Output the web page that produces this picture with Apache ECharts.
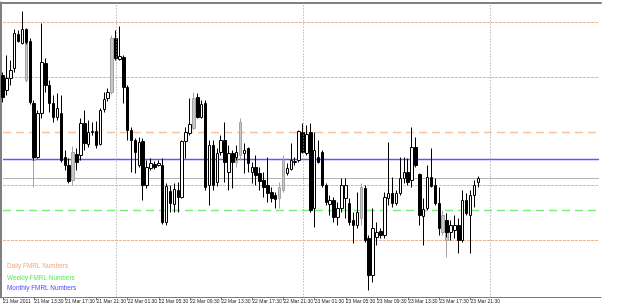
<!DOCTYPE html>
<html><head><meta charset="utf-8">
<script src="https://cdn.jsdelivr.net/npm/echarts@6/dist/echarts.min.js"></script>
<style>html,body{margin:0;padding:0;background:#fff}#c{width:625px;height:307px}</style>
</head><body><div id="c"></div>
<script>
// ---- time categories (30-minute bars from 21 Mar 2011 09:30) ----
const firstLabel = '21 Mar 2011';
const startDay = 21, startMinutes = 9 * 60 + 30, barMinutes = 30, totalSlots = 154;
const categories = [];
for (let i = 0; i < totalSlots; i++) {
  const t = startMinutes + i * barMinutes;
  const d = startDay + Math.floor(t / 1440);
  const m = t % 1440;
  categories.push(d + ' Mar ' + String(Math.floor(m / 60)).padStart(2, '0') + ':' + String(m % 60).padStart(2, '0'));
}
const labelEvery = 8;

// ---- main candles (black = down, white = up) ----
const opens = [1.4125,1.4110,1.4122,1.4132,1.4166,1.4157,1.4171,1.4159,1.4097,1.4043,
1.4087,1.4137,1.4115,1.4097,1.4083,1.4087,1.4043,1.4035,null,1.4046,
1.4045,1.4077,1.4056,1.4068,1.4069,1.4056,1.4091,1.4102,null,1.4162,
1.4141,1.4143,1.4113,1.4070,1.4060,1.4035,1.4059,1.4015,1.4032,1.4036,
1.4035,1.4035,1.3978,1.4009,1.3996,1.4010,1.4003,1.4059,1.4067,null,
1.4103,1.4083,1.4097,1.4015,1.4055,1.4018,1.4048,1.4060,1.4028,1.4047,
1.4043,null,1.4047,1.4052,1.4028,1.4033,1.4027,1.4020,1.4015,1.4008,
1.4005,null,null,1.4027,1.4031,1.4038,1.4040,1.4068,1.4047,1.4068,
1.3992,1.4043,1.4048,1.4015,1.3996,1.4000,1.3983,1.3992,1.4002,1.3997,
1.3980,1.3975,null,1.4012,1.3962,1.3925,1.3963,1.3969,1.3965,1.4002,
1.4007,1.3997,1.4007,1.4022,1.4028,1.4020,1.4053,1.4026,1.3984,1.3992,
1.4023,1.4015,1.3997,null,1.3980,1.3968,1.3970,1.3975,1.3960,1.4000,
1.3985,1.4005,1.4018];
const closes = [1.4103,1.4122,1.4130,1.4167,1.4159,1.4171,1.4158,1.4098,1.4043,1.4087,
1.4138,1.4115,1.4097,1.4083,1.4092,1.4040,1.4035,1.4019,null,1.4038,
1.4077,1.4057,1.4068,1.4069,1.4055,1.4090,1.4101,1.4108,null,1.4142,
1.4144,1.4113,1.4070,1.4060,1.4048,1.4058,1.4015,1.4033,1.4037,1.4033,
1.4037,1.3978,1.4014,1.3997,1.4011,1.4003,1.4059,1.4068,1.4076,null,
1.4083,1.4096,1.4013,1.4055,1.4015,1.4047,1.4060,1.4038,1.4047,1.4038,
1.4048,null,1.4050,1.4037,1.4033,1.4025,1.4019,1.4013,1.4007,1.4002,
1.4001,null,null,1.4032,1.4040,1.4039,1.4069,1.4048,1.4066,1.3990,
1.4050,1.4038,1.4015,1.3998,1.4000,1.3983,1.3992,1.4015,1.4015,1.3978,
1.3975,1.3988,null,1.3960,1.3925,1.3972,1.3968,1.3965,1.4003,1.4007,
1.3997,1.4007,1.4022,1.4028,1.4018,1.4053,1.4035,1.3985,1.3991,1.4023,
1.4014,1.3997,1.3972,null,1.3968,1.3975,1.3975,1.3960,1.4000,1.3987,
1.4005,1.4015,1.4022];
const lows = [1.4098,1.4105,1.4115,1.4128,1.4158,1.4156,1.4156,1.4096,1.4040,1.4042,
1.4082,1.4108,1.4088,1.4078,1.4080,1.4038,1.4030,1.4017,null,1.4030,
1.4040,1.4050,1.4053,1.4065,1.4052,1.4055,1.4088,1.4099,null,1.4140,
1.4140,1.4097,1.4060,1.4028,1.4027,1.4033,1.4000,1.4012,1.4030,1.4031,
1.4034,1.3976,1.3975,1.3988,1.3988,1.3988,1.4002,1.4042,1.4065,null,
1.4082,1.4082,1.4010,1.3995,1.4010,1.4014,1.4045,1.4018,1.4010,1.4012,
1.4040,null,1.4027,1.4028,1.4017,1.4015,1.4010,1.4003,1.3998,1.3998,
1.3992,null,null,1.4025,1.4030,1.4035,1.4038,1.4047,1.4045,1.3988,
1.3973,1.4037,1.4013,1.3995,1.3985,1.3978,1.3975,1.3988,1.3982,1.3975,
1.3957,1.3972,null,1.3958,1.3910,1.3918,1.3955,1.3962,1.3962,1.3995,
1.3993,1.3995,1.4005,1.4017,1.4015,1.4013,1.4033,1.3975,1.3955,1.3990,
1.4013,1.3995,1.3965,null,1.3963,1.3960,1.3962,1.3947,1.3958,1.3985,
1.3947,1.3993,1.4013];
const highs = [1.4128,1.4145,1.4140,1.4171,1.4170,1.4189,1.4172,1.4162,1.4100,1.4090,
1.4177,1.4142,1.4120,1.4105,1.4107,1.4105,1.4050,1.4042,null,1.4052,
1.4082,1.4090,1.4080,1.4078,1.4079,1.4092,1.4108,1.4112,null,1.4170,
1.4174,1.4145,1.4115,1.4073,1.4062,1.4063,1.4062,1.4040,1.4042,1.4039,
1.4040,1.4042,1.4017,1.4015,1.4017,1.4018,1.4060,1.4073,1.4102,null,
1.4107,1.4100,1.4100,1.4060,1.4060,1.4052,1.4065,1.4078,1.4055,1.4050,
1.4055,null,1.4057,1.4053,1.4038,1.4045,1.4033,1.4028,1.4043,1.4013,
1.4008,null,null,1.4037,1.4057,1.4043,1.4070,1.4077,1.4075,1.4077,
1.4068,1.4060,1.4050,1.4017,1.4005,1.4003,1.3998,1.4022,1.4022,1.4002,
1.3988,1.4008,null,1.4015,1.3965,1.3992,1.3978,1.3972,1.4008,1.4058,
1.4023,1.4010,1.4043,1.4043,1.4042,1.4073,1.4063,1.4027,1.4002,1.4035,
1.4052,1.4022,1.4013,null,1.3987,1.3980,1.3985,1.3982,1.4010,1.4007,
1.4010,1.4020,1.4024];

// ---- grey (overlaid) candles ----
const grayIndex  = [6, 8, 18, 28, 49, 60, 61, 71, 72, 92, 113, 114];
const grayOpens  = [1.4158,1.4097,1.4020,1.4108,1.4072,1.4038,1.4045,1.4002,1.4010,1.3982,1.3985,1.3980];
const grayCloses = [1.4120,1.4040,1.4048,1.4162,1.4102,1.4048,1.4078,1.4013,1.4040,1.4013,1.3968,1.3960];
const grayLows   = [1.4118,1.4013,1.4015,1.4106,1.4070,1.4033,1.4040,1.3992,1.4008,1.3975,1.3965,1.3943];
const grayHighs  = [1.4162,1.4098,1.4054,1.4165,1.4108,1.4052,1.4082,1.4018,1.4045,1.4017,1.3990,1.3987];

// ---- FMRL levels ----
const dailyLevels   = [1.4178, 1.4123, 1.4015, 1.3960];
const dailyPivot    = [1.4068];
const weeklyLevels  = [1.3990];
const monthlyLevels = [1.4041];
const daySeparators = ['22 Mar 00:00', '23 Mar 00:00', '24 Mar 00:00'];
const legendTexts = ['Daily FMRL Numbers', 'Weekly FMRL Numbers', 'Monthly FMRL Numbers'];
const yMin = 1.3903, yMax = 1.4198;

const mainData = opens.map((o, i) => o === null ? '-' : [o, closes[i], lows[i], highs[i]]);
const grayData = opens.map(() => '-');
grayIndex.forEach((idx, k) => { grayData[idx] = [grayOpens[k], grayCloses[k], grayLows[k], grayHighs[k]]; });
const lastIdx = opens.length - 1;
const bidLevel = closes[lastIdx];
const firstCat = categories[0], lastCat = categories[categories.length - 1];

// each level: a two-point horizontal line spanning the axis
function levelSeries(values, style) {
  return values.map(v => ({
    type: 'line', data: [[firstCat, v], [lastCat, v]], silent: true, z: 1,
    symbol: 'none', showSymbol: false, lineStyle: style, itemStyle: { color: style.color },
    emphasis: { disabled: true }
  }));
}
const sepSeries = { type: 'line', name: 'sep', data: [], silent: true, z: 1,
  markLine: { symbol: 'none', silent: true, animation: false, label: { show: false },
    lineStyle: { color: '#9a9a9a', type: [1, 2], width: 1 },
    data: daySeparators.map(c => ({ xAxis: c })) } };

const showIdx = idx => idx % labelEvery === 0 && idx <= lastIdx;

const chart = echarts.init(document.getElementById('c'), null, { renderer: 'canvas' });
chart.setOption({
  animation: false,
  backgroundColor: '#ffffff',
  grid: { left: 1, right: 24, top: 2.5, bottom: 9.5, containLabel: false },
  xAxis: [{
    type: 'category', data: categories, boundaryGap: true,
    axisLine: { lineStyle: { color: '#7a7a7a', width: 1 } },
    axisTick: { show: true, interval: showIdx, alignWithLabel: true, length: 3, lineStyle: { color: '#7a7a7a' } },
    axisLabel: { interval: showIdx, align: 'left', margin: 2, fontSize: 5, color: '#222',
      fontFamily: 'Liberation Sans', formatter: (v, i) => i === 0 ? firstLabel : v },
    splitLine: { show: false }
  }, {
    type: 'category', data: categories, position: 'top', boundaryGap: true,
    axisLine: { lineStyle: { color: '#808080', width: 2 } },
    axisTick: { show: false }, axisLabel: { show: false }
  }],
  yAxis: {
    type: 'value', min: yMin, max: yMax,
    axisLine: { show: true, lineStyle: { color: '#808080', width: 2 } },
    axisTick: { show: false }, axisLabel: { show: false }, splitLine: { show: false }
  },
  series: [sepSeries].concat(
    levelSeries(dailyLevels, { color: '#f5b07e', type: [3, 1], width: 1 }),
    levelSeries(dailyPivot, { color: '#f6c4a0', type: [8, 5], width: 1.5 }),
    levelSeries(weeklyLevels, { color: '#7aee7a', type: [8, 5], width: 1.5 }),
    levelSeries(monthlyLevels, { color: '#5a5aff', type: 'solid', width: 1.5 }),
    levelSeries([bidLevel], { color: '#b4b4b4', type: 'solid', width: 1 }),
  [{
    type: 'candlestick', name: 'grey', data: grayData, barWidth: 3, silent: true, z: 2,
    itemStyle: { color: '#c8c8c8', color0: '#c8c8c8', borderColor: '#a4a4a4', borderColor0: '#a4a4a4', borderWidth: 1 }
  }, {
    type: 'candlestick', name: 'price', data: mainData, barWidth: 3, silent: true, z: 3,
    itemStyle: { color: '#ffffff', color0: '#000000', borderColor: '#000000', borderColor0: '#000000', borderWidth: 1 }
  }]),
  graphic: [
    { type: 'text', left: 7, top: 263, style: { text: legendTexts[0], fill: '#f2a878', font: '6.4px "Liberation Sans"' } },
    { type: 'text', left: 7, top: 275, style: { text: legendTexts[1], fill: '#55ee55', font: '6.4px "Liberation Sans"' } },
    { type: 'text', left: 7, top: 285, style: { text: legendTexts[2], fill: '#4a4aff', font: '6.4px "Liberation Sans"' } }
  ]
});
</script></body></html>
